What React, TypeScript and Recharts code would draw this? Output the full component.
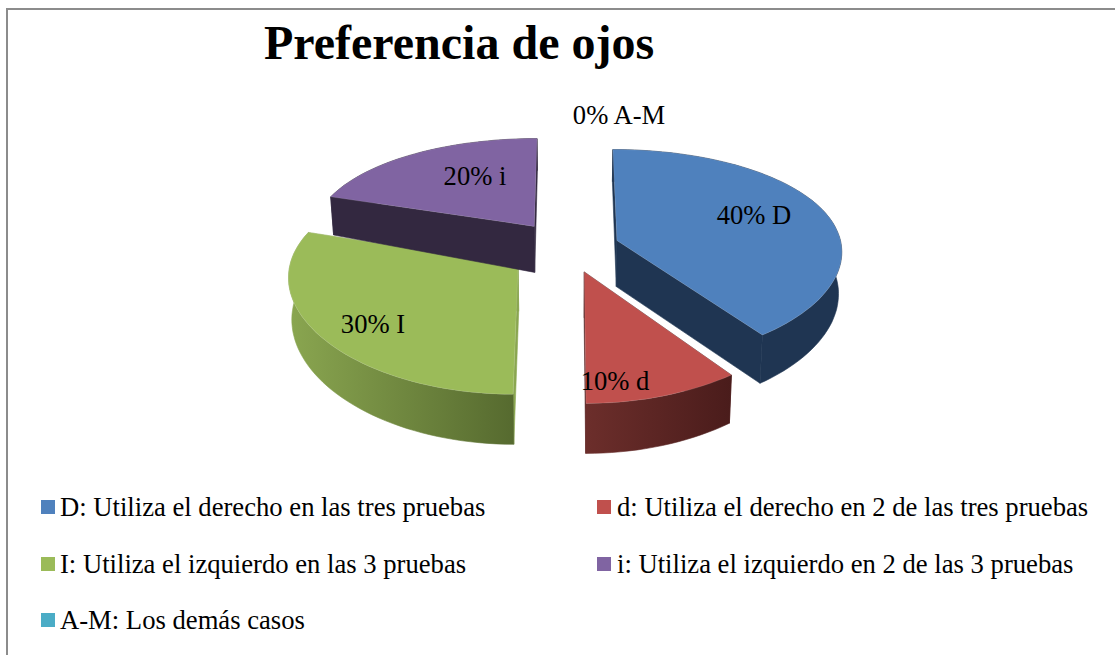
import { PieChart, Pie, Legend } from 'recharts';

const CODES = ['D', 'd', 'I', 'i', 'A-M'];
const VALUES = [40, 10, 30, 20, 0];
const LEGEND_LABELS = [
  'D: Utiliza el derecho en las tres pruebas',
  'd: Utiliza el derecho en 2 de las tres pruebas',
  'I: Utiliza el izquierdo en las 3 pruebas',
  'i: Utiliza el izquierdo en 2 de las 3 pruebas',
  'A-M: Los demás casos',
];
const COLORS = ['#4f81bd', '#c0504d', '#9bbb59', '#8064a2', '#4bacc6'];
const EXPLODES = [0.23, 0.23, 0.27, 0.26, 0];

// wall shading: [cut faces, outer wall from, outer wall to]
const WALLS = [
  ['#1f3552', '#1f3552', '#1f3552'],
  ['#5a2726', '#6c2e2b', '#4a1c1b'],
  ['#8aa650', '#8aa650', '#566a2f'],
  ['#332840', '#332840', '#332840'],
  ['#2d6a7a', '#2d6a7a', '#2d6a7a'],
];

// label centres, relative to the pie centre
const LABEL_OFFSETS = [
  [186, -33],
  [47, 133],
  [-195, 76],
  [-93, -72],
  [51, -133],
];

const chartData = CODES.map((code, i) => ({
  code,
  value: VALUES[i],
  legend: LEGEND_LABELS[i],
  fill: COLORS[i],
}));

const CX = 568;
const CY = 248;
const RADIUS = 225;
const FLATTEN = 0.47; // vertical squash of the disc
const PERSPECTIVE = 0.14;
const PERSPECTIVE_X = 0.09; // sideways the convergence is weaker
const FONT = '"Liberation Serif", "Times New Roman", serif';

type Pt = { x: number; y: number };

const sin = (deg: number) => Math.sin((deg * Math.PI) / 180);
const cos = (deg: number) => Math.cos((deg * Math.PI) / 180);

// point of the tilted disc plane: side = to the right, back = away from viewer
function project(side: number, back: number, radius: number): Pt {
  return {
    x: (radius * side) / (1 + PERSPECTIVE_X * back),
    y: (-radius * FLATTEN * back) / (1 + PERSPECTIVE * back),
  };
}

function wallDepth(theta: number) {
  return 41 - 9 * cos(theta);
}

const toPath = (pts: Pt[]) =>
  pts.map((p, i) => `${i ? 'L' : 'M'}${p.x.toFixed(1)},${p.y.toFixed(1)}`).join(' ') + ' Z';

// ── Tilted exploded slice ──────────────────────────────────────
function Slice3D(props: any) {
  const { cx, cy, outerRadius, startAngle, endAngle, fill, index, value } = props;
  if (!value) return null;

  // theta runs clockwise from the top
  const from = 90 - startAngle;
  const to = 90 - endAngle;
  const mid = (from + to) / 2;
  const offSide = EXPLODES[index] * sin(mid);
  const offBack = EXPLODES[index] * cos(mid);

  const place = (side: number, back: number): Pt => {
    const p = project(side + offSide, back + offBack, outerRadius);
    return { x: cx + p.x, y: cy + p.y };
  };
  const lower = (p: Pt, depth: number): Pt => ({
    x: p.x - (p.x - cx) * 0.012,
    y: p.y + depth,
  });

  const apex = place(0, 0);
  const apexLow = lower(apex, 46);
  const arc: Pt[] = [];
  const arcLow: Pt[] = [];
  const steps = Math.max(8, Math.round((to - from) / 2));
  for (let i = 0; i <= steps; i++) {
    const theta = from + ((to - from) * i) / steps;
    const p = place(sin(theta), cos(theta));
    arc.push(p);
    arcLow.push(lower(p, wallDepth(theta)));
  }

  const first = arc[0];
  const last = arc[arc.length - 1];
  const [cut, wallFrom, wallTo] = WALLS[index];
  const gradId = `wall-${index}`;

  return (
    <g>
      <defs>
        <linearGradient id={gradId} x1="0" y1="0" x2="1" y2="0">
          <stop offset="0%" stopColor={wallFrom} />
          <stop offset="100%" stopColor={wallTo} />
        </linearGradient>
      </defs>
      <path d={toPath([apex, first, arcLow[0], apexLow])} fill={cut} stroke={cut} strokeWidth={0.6} />
      <path
        d={toPath([apex, last, arcLow[arcLow.length - 1], apexLow])}
        fill={cut}
        stroke={cut}
        strokeWidth={0.6}
      />
      <path
        d={toPath([...arc, ...arcLow.slice().reverse()])}
        fill={`url(#${gradId})`}
        stroke={`url(#${gradId})`}
        strokeWidth={0.6}
      />
      <path
        d={toPath([apex, ...arc])}
        fill={fill}
        stroke="#ffffff"
        strokeOpacity={0.2}
        strokeWidth={0.6}
      />
    </g>
  );
}

function renderLabel(props: any) {
  const { cx, cy, index, value } = props;
  const [dx, dy] = LABEL_OFFSETS[index];
  return (
    <text
      key={index}
      x={cx + dx}
      y={cy + dy}
      textAnchor="middle"
      dominantBaseline="central"
      fontFamily={FONT}
      fontSize={26.6}
      fill="#000"
    >
      {`${value}% ${CODES[index]}`}
    </text>
  );
}

// ── Legend in two columns ──────────────────────────────────────
const LEGEND_COLS = [41, 597];
const LEGEND_ROWS = [507, 564, 620];

function renderLegend(props: any) {
  const items = props.payload ?? [];
  return (
    <div>
      {items.map((item: any, i: number) => (
        <div
          key={item.value}
          style={{
            position: 'absolute',
            left: LEGEND_COLS[i % 2],
            top: LEGEND_ROWS[Math.floor(i / 2)] - 15,
            height: 30,
            display: 'flex',
            alignItems: 'center',
            whiteSpace: 'nowrap',
            fontFamily: FONT,
            fontSize: 26.65,
            color: '#000',
          }}
        >
          <span
            style={{ width: 14, height: 14, background: item.color, marginRight: i % 2 ? 6 : 5 }}
          />
          {item.value}
        </div>
      ))}
    </div>
  );
}

export default function App() {
  return (
    <div
      style={{
        position: 'absolute',
        left: 0,
        top: 0,
        width: 1115,
        height: 655,
        overflow: 'hidden',
        background: '#fff',
      }}
    >
      <div
        style={{
          position: 'absolute',
          left: 6,
          top: 8,
          width: 1300,
          height: 900,
          borderLeft: '2px solid #8c8c8c',
          borderTop: '2px solid #8c8c8c',
        }}
      />
      <div
        style={{
          position: 'absolute',
          left: 264,
          top: 13,
          fontFamily: FONT,
          fontWeight: 700,
          fontSize: 48,
          lineHeight: '60px',
          whiteSpace: 'nowrap',
          color: '#000',
        }}
      >
        Preferencia de ojos
      </div>
      <PieChart
        width={1115}
        height={655}
        margin={{ top: 0, right: 0, bottom: 0, left: 0 }}
        style={{ position: 'absolute', left: 0, top: 0 }}
      >
        <Pie
          data={chartData}
          dataKey="value"
          nameKey="legend"
          cx={CX}
          cy={CY}
          innerRadius={0}
          outerRadius={RADIUS}
          startAngle={90}
          endAngle={-270}
          paddingAngle={0}
          minAngle={0}
          stroke="none"
          label={renderLabel}
          labelLine={false}
          shape={Slice3D}
          isAnimationActive={false}
        />
        <Legend
          content={renderLegend}
          itemSorter={null}
          wrapperStyle={{ position: 'absolute', left: 0, top: 0, bottom: 'auto', width: 1115, height: 0 }}
        />
      </PieChart>
    </div>
  );
}
